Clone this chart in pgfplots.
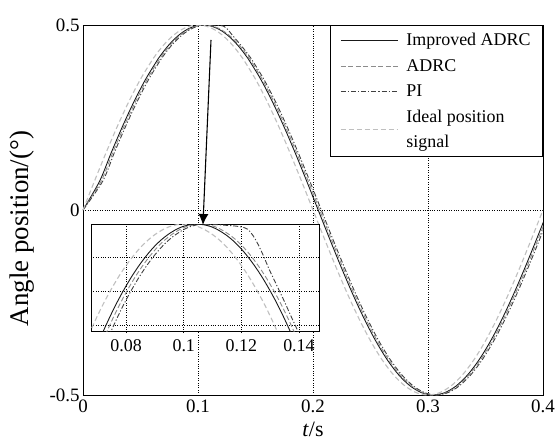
\documentclass[border=0pt]{standalone}
\usepackage{pgfplots}
\pgfplotsset{compat=1.18}
\usepackage{pgfplotstable}
\usepackage{fontspec}
\setmainfont{Liberation Serif}
\usetikzlibrary{arrows.meta}

\pgfplotstableread{
t y tI tA tP yP
0 0 0 0 0 0
0.01 0.0782 0.0145 0.0158 0.0172 0.0782
0.02 0.1545 0.0245 0.0258 0.0272 0.1545
0.03 0.2270 0.0345 0.0358 0.0372 0.2270
0.04 0.2939 0.0445 0.0458 0.0472 0.2939
0.05 0.3536 0.0545 0.0558 0.0572 0.3536
0.06 0.4045 0.0645 0.0658 0.0672 0.4045
0.0625 0.4157 0.0670 0.0683 0.0697 0.4157
0.065 0.4263 0.0695 0.0708 0.0722 0.4263
0.0675 0.4362 0.0720 0.0733 0.0747 0.4362
0.07 0.4455 0.0745 0.0758 0.0772 0.4455
0.0725 0.4541 0.0770 0.0783 0.0797 0.4541
0.075 0.4619 0.0795 0.0808 0.0822 0.4619
0.0775 0.4691 0.0820 0.0833 0.0847 0.4691
0.08 0.4755 0.0845 0.0858 0.0872 0.4755
0.0825 0.4812 0.0870 0.0883 0.0897 0.4812
0.085 0.4862 0.0895 0.0908 0.0922 0.4862
0.0875 0.4904 0.0920 0.0933 0.0947 0.4904
0.09 0.4938 0.0945 0.0958 0.0972 0.4938
0.0925 0.4965 0.0970 0.0983 0.0997 0.4965
0.095 0.4985 0.0995 0.1008 0.1022 0.4985
0.0975 0.4996 0.1020 0.1033 0.1047 0.4996
0.1 0.5 0.1045 0.1058 0.1072 0.5
0.1025 0.4996 0.1070 0.1083 0.1097 0.4998
0.105 0.4985 0.1095 0.1108 0.1122 0.4996
0.1075 0.4965 0.1120 0.1133 0.1147 0.4993
0.11 0.4938 0.1145 0.1158 0.1172 0.4990
0.1125 0.4904 0.1170 0.1183 0.1197 0.4984
0.115 0.4862 0.1195 0.1208 0.1222 0.4970
0.1175 0.4812 0.1220 0.1233 0.1247 0.4915
0.12 0.4755 0.1245 0.1258 0.1272 0.4830
0.1225 0.4691 0.1270 0.1283 0.1297 0.4730
0.125 0.4619 0.1295 0.1308 0.1322 0.4640
0.1275 0.4541 0.1320 0.1333 0.1347 0.4550
0.13 0.4455 0.1345 0.1358 0.1372 0.4455
0.1325 0.4362 0.1370 0.1383 0.1397 0.4362
0.135 0.4263 0.1395 0.1408 0.1422 0.4263
0.1375 0.4157 0.1420 0.1433 0.1447 0.4157
0.14 0.4045 0.1445 0.1458 0.1472 0.4045
0.15 0.3536 0.1545 0.1558 0.1572 0.3536
0.16 0.2939 0.1645 0.1658 0.1672 0.2939
0.17 0.2270 0.1745 0.1758 0.1772 0.2270
0.18 0.1545 0.1845 0.1858 0.1872 0.1545
0.19 0.0782 0.1945 0.1958 0.1972 0.0782
0.2 0 0.2045 0.2058 0.2072 0
0.21 -0.0782 0.2145 0.2158 0.2172 -0.0782
0.22 -0.1545 0.2245 0.2258 0.2272 -0.1545
0.23 -0.2270 0.2345 0.2358 0.2372 -0.2270
0.24 -0.2939 0.2445 0.2458 0.2472 -0.2939
0.25 -0.3536 0.2545 0.2558 0.2572 -0.3536
0.26 -0.4045 0.2645 0.2658 0.2672 -0.4045
0.27 -0.4455 0.2745 0.2758 0.2772 -0.4455
0.28 -0.4755 0.2845 0.2858 0.2872 -0.4755
0.29 -0.4938 0.2945 0.2958 0.2972 -0.4938
0.3 -0.5 0.3045 0.3058 0.3072 -0.5
0.31 -0.4938 0.3145 0.3158 0.3172 -0.4938
0.32 -0.4755 0.3245 0.3258 0.3272 -0.4755
0.33 -0.4455 0.3345 0.3358 0.3372 -0.4455
0.34 -0.4045 0.3445 0.3458 0.3472 -0.4045
0.35 -0.3536 0.3545 0.3558 0.3572 -0.3536
0.36 -0.2939 0.3645 0.3658 0.3672 -0.2939
0.37 -0.2270 0.3745 0.3758 0.3772 -0.2270
0.38 -0.1545 0.3845 0.3858 0.3872 -0.1545
0.39 -0.0782 0.3945 0.3958 0.3972 -0.0782
0.4 0 0.4045 0.4058 0.4072 0
}\data

\pgfplotsset{
  imp/.style={black!90, line width=0.9pt, smooth},
  adrc/.style={black!45, dash pattern=on 5pt off 2.5pt, line width=0.9pt, smooth},
  pic/.style={black!75, dash pattern=on 5pt off 2pt on 1.2pt off 2pt, line width=0.9pt, smooth},
  ideal/.style={black!25, dash pattern=on 5pt off 3pt, line width=1.1pt, smooth},
}

\begin{document}
\begin{tikzpicture}
\path[use as bounding box] (-83bp,-47bp) rectangle (472bp,395bp);
\begin{axis}[
  at={(0,0)}, anchor=south west,
  scale only axis, width=460bp, height=370bp,
  xmin=0, xmax=0.4, ymin=-0.5, ymax=0.5,
  xtick={0,0.1,0.2,0.3,0.4}, xticklabels={0,0.1,0.2,0.3,0.4},
  ytick={-0.5,0,0.5}, yticklabels={-0.5,0,0.5},
  major tick length=0pt,
  grid=major, grid style={black, dotted, line width=0.9pt},
  axis line style={line width=1pt},
  tick label style={font=\fontsize{19}{21}\selectfont},
  xticklabel style={yshift=-1bp},
  xlabel={\textit{t}/s}, ylabel={Angle position/(°)},
  every axis x label/.style={at={(axis description cs:0.5,-0.092)}, anchor=center, font=\fontsize{22}{24}\selectfont},
  every axis y label/.style={at={(axis description cs:-0.1326,0.45)}, rotate=90, anchor=center, font=\fontsize{27}{29}\selectfont},
  legend style={at={(1,1)}, anchor=north east, draw=black, line width=1pt, fill=white,
     font=\fontsize{18}{25}\selectfont, cells={anchor=west, align=left}, row sep=8bp,
     column sep=6bp, inner xsep=10bp, inner ysep=6bp},
  legend cell align=left,
  legend image code/.code={\draw[#1] (0bp,0bp) -- (57bp,0bp);},
]
\addplot[imp] table[x=tI, y=y]{\data};
\addlegendentry{Improved ADRC}
\addplot[adrc] table[x=tA, y=y]{\data};
\addlegendentry{ADRC}
\addplot[pic] table[x=tP, y=yP]{\data};
\addlegendentry{PI}
\addplot[ideal] table[x=t, y=y]{\data};
\addlegendentry{Ideal position\\signal}
\coordinate (A1) at (axis cs:0.1113,0.4595);
\coordinate (A2) at (axis cs:0.1043,-0.0405);
\end{axis}
\begin{axis}[
  at={(8bp,63bp)}, anchor=south west,
  scale only axis, width=229bp, height=107bp,
  xmin=0.0678, xmax=0.1473, ymin=0.436, ymax=0.4995,
  xtick={0.08,0.1,0.12,0.14}, xticklabels={0.08,0.1,0.12,0.14},
  ytick={0.44,0.46,0.48}, yticklabels={},
  major tick length=0pt,
  grid=major, grid style={black, dotted, line width=0.9pt},
  axis line style={line width=1pt},
  axis background/.style={fill=white},
  tick label style={font=\fontsize{18}{20}\selectfont},
  xticklabel style={yshift=-4bp},
]
\addplot[ideal] table[x=t, y=y]{\data};
\addplot[adrc] table[x=tA, y=y]{\data};
\addplot[pic] table[x=tP, y=yP]{\data};
\addplot[imp] table[x=tI, y=y]{\data};
\end{axis}
\draw[-{Latex[length=11bp,width=10bp]}, line width=1.1pt, black] (A1) -- (A2);
\end{tikzpicture}
\end{document}
